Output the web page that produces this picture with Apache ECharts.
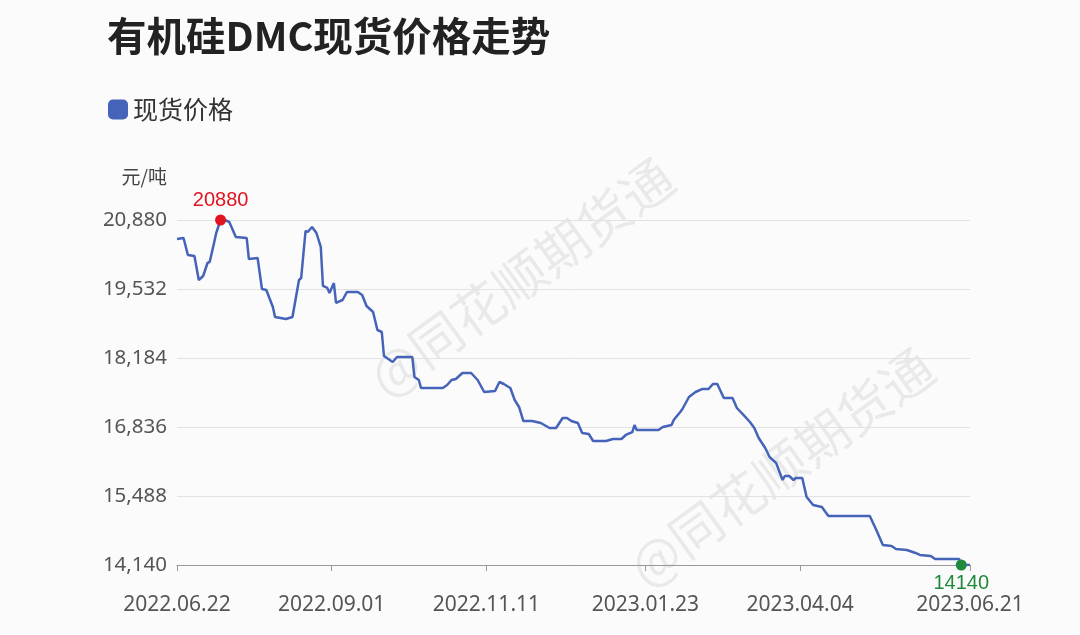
<!DOCTYPE html>
<html>
<head>
<meta charset="utf-8">
<script src="https://cdn.jsdelivr.net/npm/echarts@6/dist/echarts.min.js"></script>
<style>html,body{margin:0;padding:0;background:#fbfbfb}#chart{width:1080px;height:635px}</style>
</head>
<body>
<div id="chart"></div>
<script>
// days after 2022-06-22, price (元/吨)
var dayOffsets = [0,3,5,8,10,12,14,15,17,18,20,22,24,27,32,33,37,39,41,44,45,50,53,56,57,59,60,62,64,66,67,69,70,72,73,76,78,83,85,87,90,92,94,95,99,101,108,109,111,112,122,124,126,128,131,135,138,141,146,148,150,153,155,157,159,163,167,171,174,177,179,181,184,186,189,191,197,200,204,206,209,210,211,221,223,227,228,231,232,235,238,241,244,246,248,251,255,257,260,263,265,267,270,272,275,278,279,281,283,284,287,289,292,296,299,318,321,324,328,330,335,339,341,346,348,359,360,364];
var prices = [20509,20528,20196,20177,19708,19786,20040,20060,20431,20626,20880,20880,20841,20548,20528,20118,20138,19532,19512,19180,18985,18946,18985,19708,19747,20665,20646,20743,20626,20353,19591,19552,19454,19649,19259,19317,19473,19473,19415,19200,19083,18731,18692,18223,18106,18204,18204,17813,17754,17598,17598,17657,17754,17774,17891,17891,17754,17520,17539,17715,17676,17598,17364,17227,16953,16953,16914,16817,16817,17012,17012,16953,16914,16719,16699,16563,16563,16602,16602,16680,16738,16875,16777,16777,16836,16875,16973,17129,17188,17422,17520,17578,17578,17676,17676,17403,17403,17207,17071,16934,16817,16621,16426,16250,16133,15801,15879,15879,15801,15840,15840,15469,15312,15273,15098,15098,14824,14531,14511,14453,14433,14375,14336,14316,14258,14258,14140,14140];
var tickDays = [0, 71, 142, 215, 286, 364];
var tickLabels = ['2022.06.22', '2022.09.01', '2022.11.11', '2023.01.23', '2023.04.04', '2023.06.21'];

var seriesData = dayOffsets.map(function (d, i) { return [d, prices[i]]; });

var myChart = echarts.init(document.getElementById('chart'));
var wmStyle = { text: '@同花顺期货通', font: '52px "Noto Sans CJK SC"', fill: 'rgba(0,0,0,0.07)' };
var option = {
    backgroundColor: '#fbfbfb',
    title: {
        text: '有机硅DMC现货价格走势',
        left: 102, top: 11,
        textStyle: { fontSize: 39.5, fontWeight: 'bold', color: '#222', fontFamily: 'Noto Sans CJK SC' }
    },
    legend: {
        left: 103, top: 92,
        icon: 'roundRect', itemWidth: 20, itemHeight: 20, itemGap: 8,
        textStyle: { fontSize: 25, color: '#333', fontFamily: 'Noto Sans CJK SC' },
        data: ['现货价格']
    },
    graphic: [
        { type: 'text', left: 360, top: 150, rotation: Math.PI / 5, style: wmStyle },
        { type: 'text', left: 620, top: 340, rotation: Math.PI / 5, style: wmStyle }
    ],
    grid: { left: 177, right: 110, top: 220, bottom: 70 },
    xAxis: {
        type: 'value',
        min: 0, max: 364,
        axisLine: { lineStyle: { color: '#999' } },
        axisTick: { show: true, customValues: tickDays, length: 6, lineStyle: { color: '#999' } },
        axisLabel: {
            customValues: tickDays, fontSize: 21, color: '#555', margin: 30, fontFamily: 'Noto Sans',
            formatter: function (v) { return tickLabels[tickDays.indexOf(v)] || ''; }
        },
        splitLine: { show: false }
    },
    yAxis: {
        type: 'value',
        min: 14140, max: 20880, interval: 1348,
        name: '元/吨',
        nameLocation: 'end',
        nameGap: 34,
        nameTextStyle: { fontSize: 19, color: '#444', align: 'right', padding: [0, 10, 0, 0], fontFamily: 'Noto Sans CJK SC' },
        axisLine: { show: false },
        axisTick: { show: false },
        axisLabel: { fontSize: 20.5, color: '#555', margin: 10, fontFamily: 'Noto Sans', formatter: function (v) { return v.toLocaleString('en-US'); } },
        splitLine: { lineStyle: { color: '#e2e2e2' } }
    },
    series: [{
        name: '现货价格',
        type: 'line',
        data: seriesData,
        symbol: 'none',
        color: '#4563b8',
        lineStyle: { width: 2.5, color: '#4563b8' },
        markPoint: {
            symbol: 'circle',
            symbolSize: 11,
            data: [
                { type: 'max', itemStyle: { color: '#e0141e' }, label: { position: 'top', color: '#e0141e', fontSize: 20, distance: 4 } },
                { type: 'min', itemStyle: { color: '#1f8a3c' }, label: { position: 'bottom', color: '#1f8a3c', fontSize: 20, distance: 3 } }
            ]
        }
    }]
};
myChart.setOption(option);
</script>
</body>
</html>
